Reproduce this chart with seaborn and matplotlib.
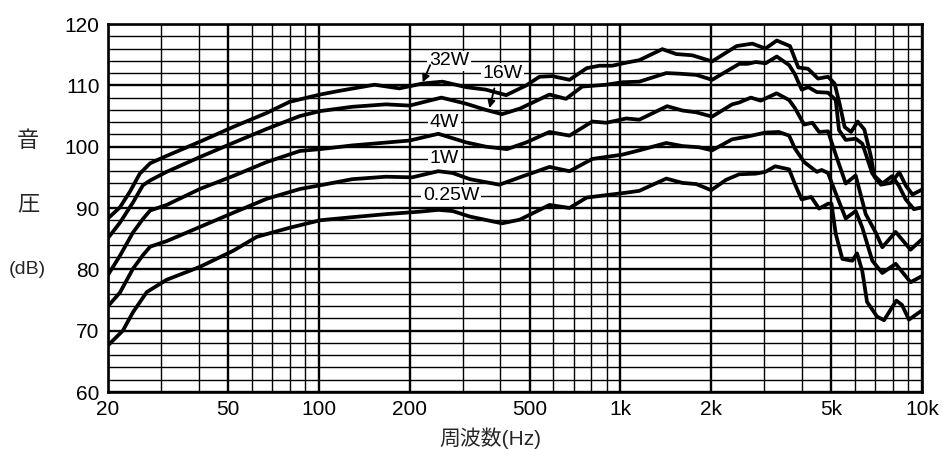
import matplotlib
matplotlib.use("Agg")
import matplotlib.pyplot as plt
from matplotlib.ticker import NullFormatter
import pandas as pd
import seaborn as sns

# ---- data (Hz, dB) ----
freq_32w = [20, 21.9, 23.6, 25.5, 27.6, 31.3, 40.3, 51.9, 67.2, 79.9, 101, 117, 153, 185,
            221, 257, 308, 358, 418, 488, 539, 595, 678, 773, 852, 940, 1046, 1155, 1377,
            1532, 1730, 2014, 2427, 2737, 3026, 3300, 3650, 3890, 4190, 4520, 4880, 5130,
            5330, 5540, 5820, 6120, 6440, 6770, 6950, 7310, 7890, 8410, 8850, 9300, 10000]
spl_32w = [88.3, 90.1, 92.6, 95.6, 97.3, 98.5, 100.8, 103.2, 105.5, 107.3, 108.5, 109.1, 110.1, 109.5,
           110.3, 110.6, 109.7, 109.3, 108.4, 110.0, 111.4, 111.5, 110.9, 112.8, 113.2, 113.2, 113.7, 114.1, 115.9,
           115.1, 114.9, 113.9, 116.4, 116.8, 116.0, 117.3, 116.4, 112.9, 112.7, 111.1, 111.4, 110.3,
           107.0, 103.2, 102.4, 104.1, 102.8, 98.4, 95.1, 93.8, 94.1, 95.8, 93.6, 92.2, 93.0]

freq_16w = [20, 21.9, 24.2, 26.1, 27.6, 31.3, 40.3, 51.9, 67.2, 86.6, 101, 129, 167, 200,
            255, 308, 358, 405, 464, 582, 660, 747, 898, 1014, 1155, 1420, 1567, 1785, 2014,
            2476, 2637, 2810, 3030, 3300, 3626, 3790, 3990, 4200, 4480, 4880, 5175, 5307,
            5585, 6027, 6340, 6843, 7386, 7967, 8387, 8830, 9403, 10000]
spl_16w = [85.1, 87.6, 90.9, 93.7, 94.5, 95.9, 98.3, 100.6, 102.9, 105.0, 105.8, 106.5, 106.9, 106.7,
           108.0, 107.0, 106.0, 105.3, 106.2, 108.5, 107.8, 109.8, 110.1, 110.5, 110.6, 112.0, 111.9, 111.7, 110.9,
           113.5, 113.5, 113.8, 113.6, 114.7, 113.3, 111.8, 109.3, 109.7, 108.9, 108.8, 107.6, 102.7,
           101.1, 101.3, 100.5, 95.6, 94.0, 95.2, 93.6, 91.4, 89.8, 90.1]

freq_4w = [20, 21.9, 24.2, 26.1, 27.6, 31.3, 40.3, 51.9, 67.2, 86.6, 101, 129, 200, 249,
           308, 358, 421, 488, 582, 678, 807, 898, 1046, 1155, 1429, 1604, 1785, 2014, 2347,
           2476, 2707, 2919, 3296, 3626, 3790, 4065, 4331, 4558, 4880, 5175, 5585, 6027,
           6507, 7023, 7386, 8178, 9165, 10000]
spl_4w = [79.1, 82.2, 86.0, 88.2, 89.6, 90.5, 93.1, 95.2, 97.5, 99.3, 99.6, 100.2, 101.0, 102.1,
          100.7, 100.0, 99.6, 100.7, 102.4, 101.8, 104.1, 103.9, 104.6, 104.4, 106.6, 105.9, 105.6, 104.9, 106.9,
          107.2, 108.0, 107.5, 108.7, 107.6, 106.3, 103.6, 103.9, 102.4, 102.5, 98.7, 94.0, 95.3,
          89.0, 86.0, 83.6, 86.1, 83.2, 84.9]

freq_1w = [20, 21.9, 24.2, 26.1, 27.6, 31.3, 40.3, 51.9, 67.2, 86.6, 101, 129, 167, 204,
           249, 278, 317, 397, 464, 582, 678, 807, 1014, 1155, 1420, 1604, 1825, 2014, 2347,
           2611, 3026, 3350, 3626, 3790, 4065, 4480, 4650, 4880, 5175, 5585, 6027, 6340,
           6843, 7386, 8178, 9165, 10000]
spl_1w = [74.0, 76.2, 80.1, 82.3, 83.7, 84.6, 86.9, 89.2, 91.5, 93.1, 93.7, 94.7, 95.1, 95.0,
          96.0, 95.7, 94.7, 93.8, 95.0, 96.7, 96.0, 98.0, 98.7, 99.4, 100.6, 100.1, 99.9, 99.4, 101.2,
          101.6, 102.3, 102.4, 101.8, 99.7, 97.5, 95.9, 96.2, 95.7, 92.4, 88.3, 89.5, 86.8,
          81.4, 79.4, 80.9, 77.9, 78.9]

freq_025w = [20, 22.4, 24.2, 26.9, 31.3, 40.3, 51.9, 62.3, 78.9, 101, 129, 167, 216, 249,
             278, 317, 405, 464, 582, 678, 773, 898, 1046, 1155, 1420, 1604, 1785, 2000, 2242,
             2476, 2810, 3026, 3260, 3626, 3790, 3990, 4290, 4558, 4880, 5010, 5175, 5443,
             5874, 6090, 6340, 6572, 7094, 7482, 8220, 8583, 9050, 10000]
spl_025w = [67.6, 70.0, 73.0, 76.3, 78.3, 80.4, 83.0, 85.3, 86.7, 88.0, 88.5, 89.0, 89.4, 89.7,
            89.5, 88.6, 87.5, 88.1, 90.5, 90.0, 91.7, 92.1, 92.5, 92.8, 94.8, 94.1, 93.9, 92.9, 94.6,
            95.5, 95.6, 95.9, 96.8, 96.3, 93.9, 91.4, 91.8, 89.9, 90.7, 90.7, 85.8, 81.7,
            81.4, 82.6, 79.7, 74.7, 72.3, 71.7, 74.9, 74.2, 71.8, 73.3]

power_labels = ["32W", "16W", "4W", "1W", "0.25W"]

x_ticks = [20, 50, 100, 200, 500, 1000, 2000, 5000, 10000]
x_ticklabels = ["20", "50", "100", "200", "500", "1k", "2k", "5k", "10k"]
x_minor = [30, 40, 60, 70, 80, 90, 300, 400, 600, 700, 800, 900,
           3000, 4000, 6000, 7000, 8000, 9000]
y_ticks = [60, 70, 80, 90, 100, 110, 120]
y_minor = list(range(60, 121, 2))

# label positions (Hz, dB)
label_x = [270, 406, 261, 261, 275]
label_y = [114, 112, 104, 98, 92]

# ---- build table ----
freqs = [freq_32w, freq_16w, freq_4w, freq_1w, freq_025w]
spls = [spl_32w, spl_16w, spl_4w, spl_1w, spl_025w]
df = pd.concat([pd.DataFrame({"freq": f, "spl": s, "power": p})
                for f, s, p in zip(freqs, spls, power_labels)], ignore_index=True)

sns.set_theme(style="white")
plt.rcParams["font.family"] = ["Liberation Sans", "Noto Sans CJK JP", "DejaVu Sans"]

fig = plt.figure(figsize=(9.42, 4.49), dpi=100)
ax = fig.add_axes([108 / 942, 1 - 392 / 449, 814 / 942, 368 / 449])

sns.lineplot(data=df, x="freq", y="spl", units="power", estimator=None,
             color="black", linewidth=2.7, ax=ax, legend=False, sort=False,
             solid_joinstyle="round", solid_capstyle="round")

ax.set_xscale("log")
ax.set_xlim(20, 10000)
ax.set_ylim(60, 120)
ax.set_xticks(x_ticks, x_ticklabels)
ax.set_xticks(x_minor, minor=True)
ax.xaxis.set_minor_formatter(NullFormatter())
ax.set_yticks(y_ticks)
ax.set_yticks(y_minor, minor=True)
ax.yaxis.set_minor_formatter(NullFormatter())
ax.set_axisbelow(True)
ax.grid(which="major", color="black", linewidth=1.7)
ax.grid(which="minor", color="black", linewidth=1.0)
ax.tick_params(which="both", length=0)
ax.tick_params(axis="both", labelsize=15, colors="black")
ax.tick_params(axis="x", pad=6)
ax.tick_params(axis="y", pad=6)
ax.set_xlabel("")
ax.set_ylabel("")
for sp in ax.spines.values():
    sp.set_color("black")
    sp.set_linewidth(1.9)

for lbl, lx, ly in zip(power_labels, label_x, label_y):
    ax.text(lx, ly, lbl, ha="center", va="center", fontsize=14, color="black",
            zorder=4, bbox=dict(facecolor="white", edgecolor="none", pad=1.2))

# arrows for 32W and 16W
ax.annotate("", xy=(221, 110.5), xytext=(234, 113.3),
            arrowprops=dict(arrowstyle="-|>", color="black", lw=1.3, mutation_scale=11,
                            shrinkA=0, shrinkB=0), zorder=4)
ax.annotate("", xy=(368, 106.3), xytext=(382, 109.5),
            arrowprops=dict(arrowstyle="-|>", color="black", lw=1.3, mutation_scale=11,
                            shrinkA=0, shrinkB=0), zorder=4)

fig.text(28 / 942, 1 - 142 / 449, "音", ha="center", va="center", fontsize=16)
fig.text(28 / 942, 1 - 205 / 449, "圧", ha="center", va="center", fontsize=16)
fig.text(27 / 942, 1 - 270 / 449, "(dB)", ha="center", va="center", fontsize=14)
fig.text(490 / 942, 1 - 438 / 449, "周波数(Hz)", ha="center", va="center", fontsize=15)

fig.savefig("out.png", dpi=100, facecolor="white")
